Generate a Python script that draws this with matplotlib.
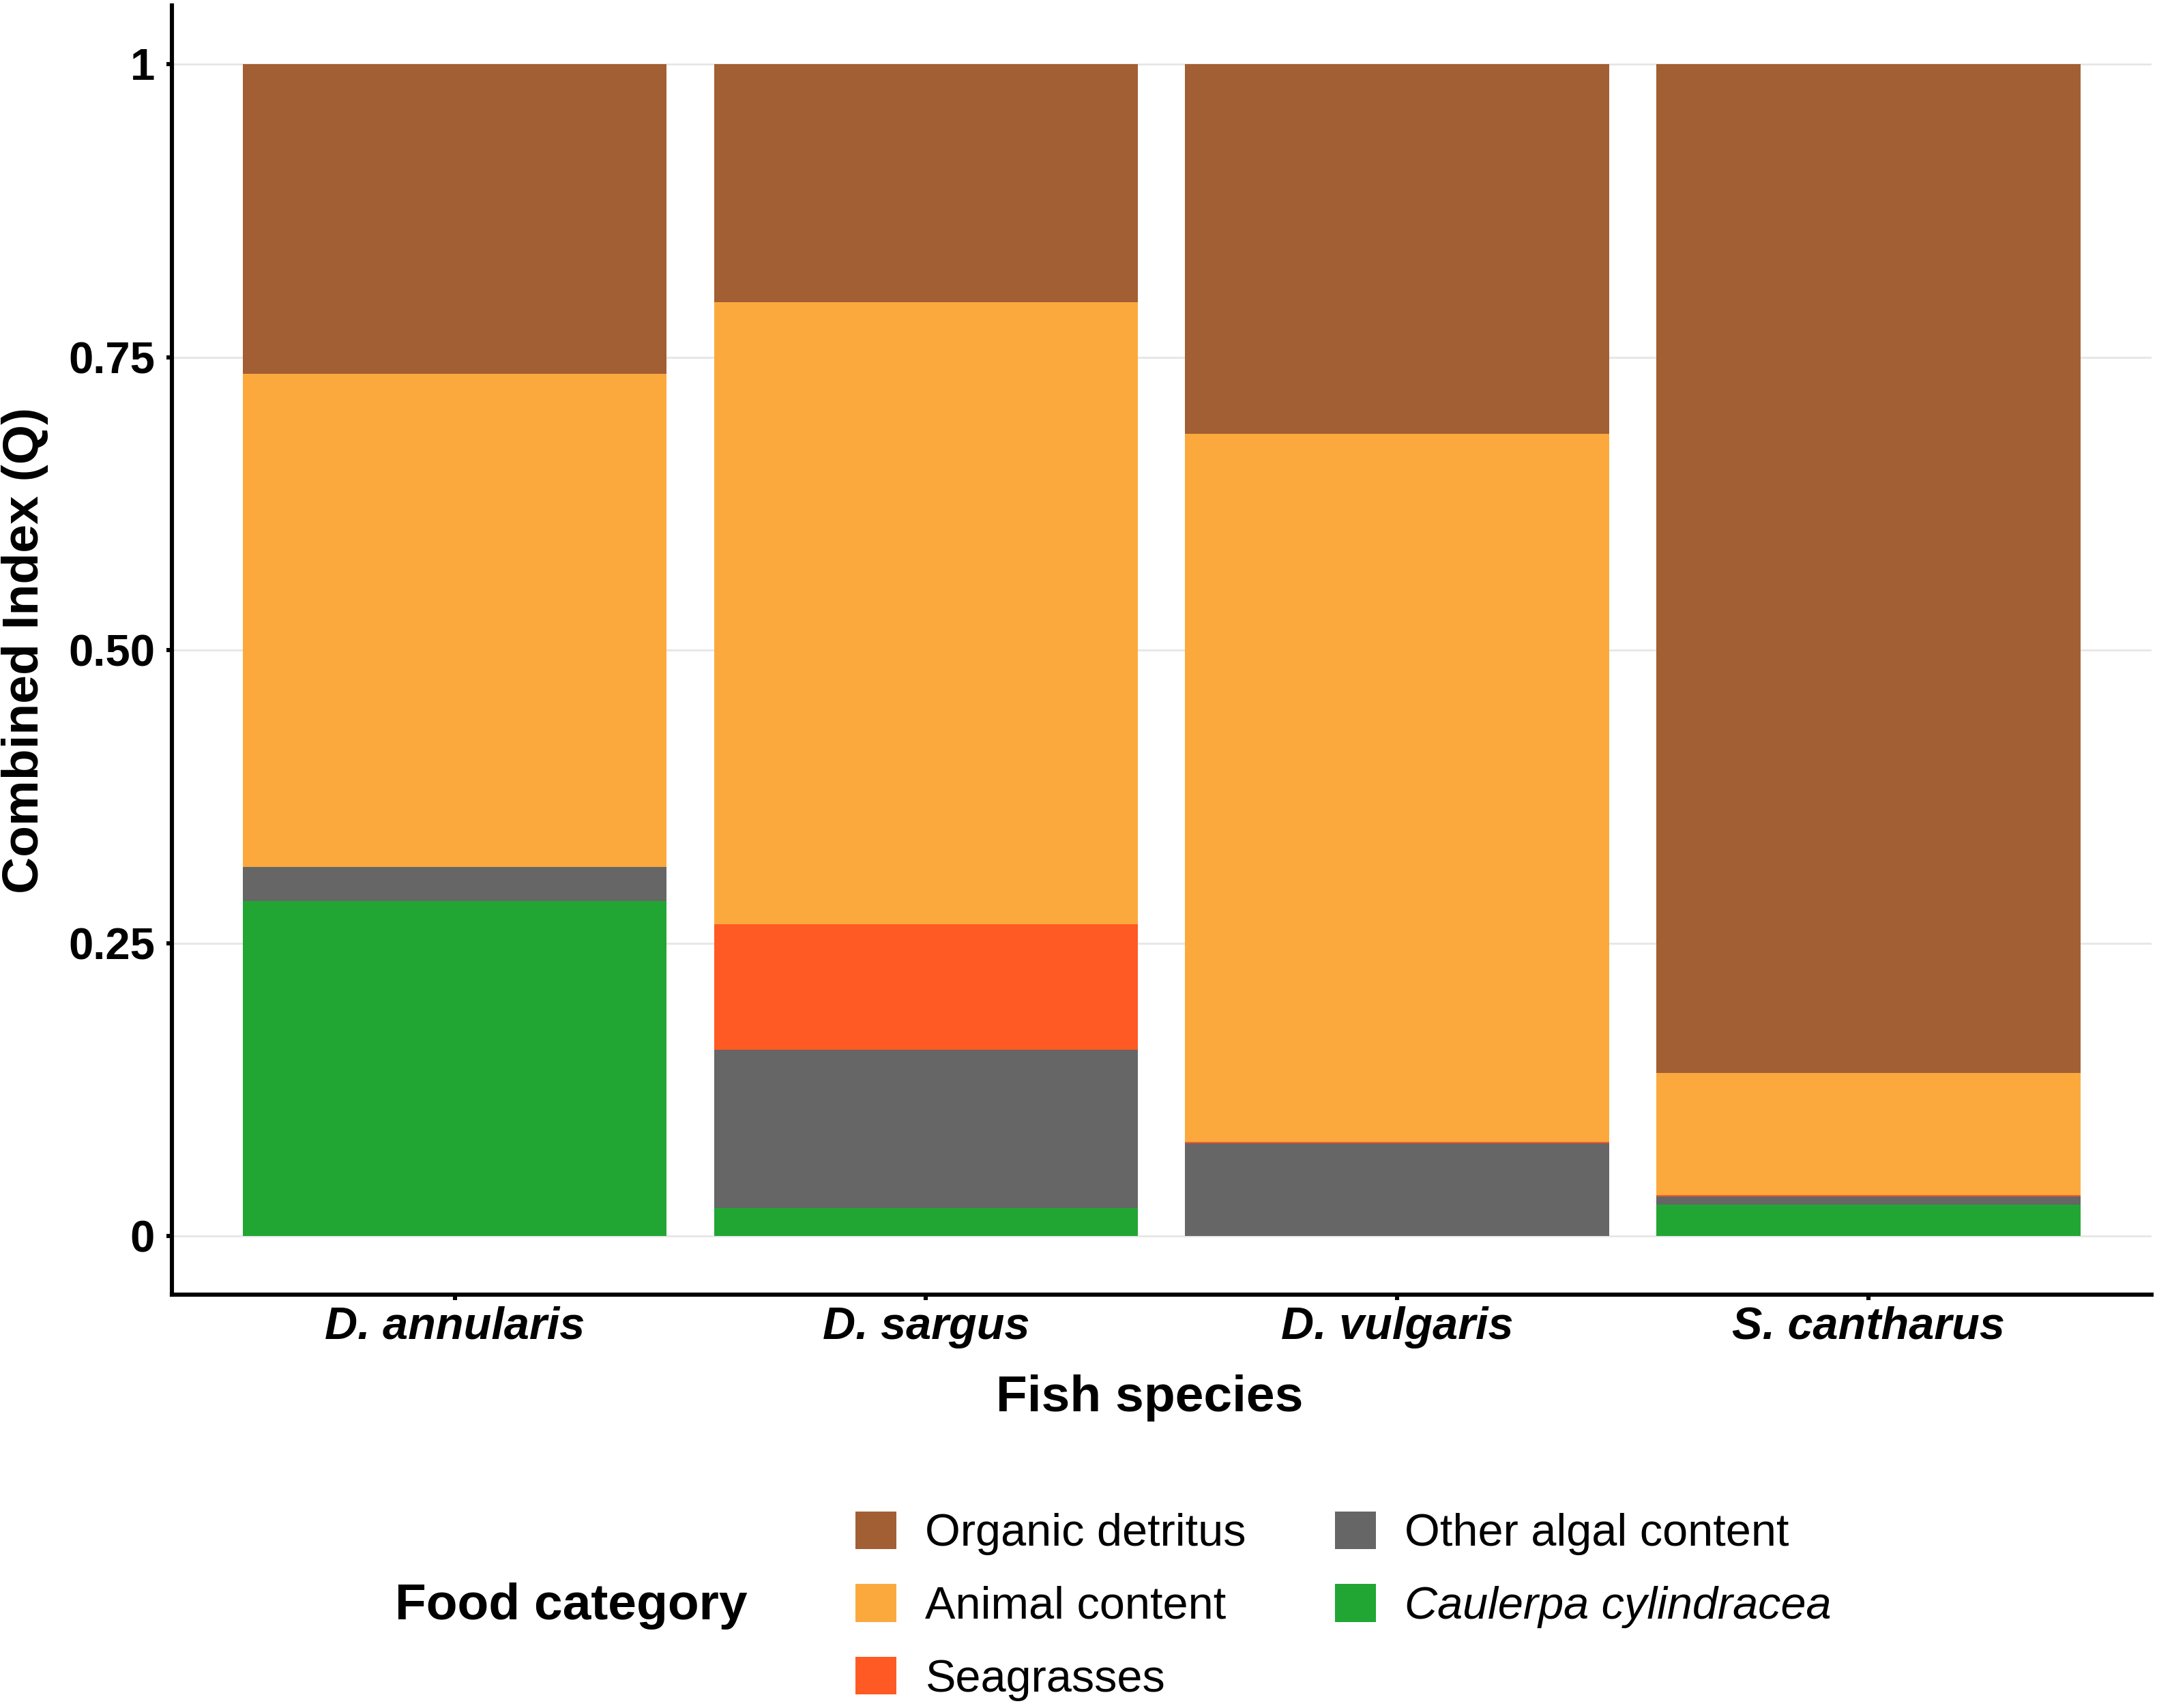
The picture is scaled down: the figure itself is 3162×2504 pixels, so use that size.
import matplotlib
matplotlib.use("Agg")
import numpy as np
import matplotlib.pyplot as plt
from matplotlib.patches import Patch

plt.rcParams['font.family'] = ['Liberation Sans', 'DejaVu Sans']

# Combined index (Q) per fish species, stacked bottom -> top
species = ['D. annularis', 'D. sargus', 'D. vulgaris', 'S. cantharus']
caulerpa = [0.286, 0.024, 0.0, 0.027]
other_algal = [0.029, 0.135, 0.0793, 0.0068]
seagrasses = [0.0, 0.107, 0.0015, 0.0014]
animal = [0.421, 0.531, 0.604, 0.1042]
detritus = [0.264, 0.203, 0.315, 0.8606]

categories = ['Organic detritus', 'Animal content', 'Seagrasses',
              'Other algal content', 'Caulerpa cylindracea']
colors = {
    'Organic detritus': '#A25F33',
    'Animal content': '#FBA93D',
    'Seagrasses': '#FF5A24',
    'Other algal content': '#666666',
    'Caulerpa cylindracea': '#21A634',
}

stack = [('Caulerpa cylindracea', caulerpa),
         ('Other algal content', other_algal),
         ('Seagrasses', seagrasses),
         ('Animal content', animal),
         ('Organic detritus', detritus)]

fig = plt.figure(figsize=(15.81, 12.52), dpi=200)
ax = fig.add_axes([0.0797, 0.2419, 0.9177, 0.7549])

x = np.arange(1, len(species) + 1)
bottom = np.zeros(len(species))
for name, vals in stack:
    vals = np.array(vals)
    ax.bar(x, vals, width=0.9, bottom=bottom, color=colors[name],
           linewidth=0, zorder=2)
    bottom += vals

ax.set_xlim(0.4, 4.6)
ax.set_ylim(-0.05, 1.05)
ax.set_yticks([0, 0.25, 0.5, 0.75, 1])
ax.set_yticklabels(['0', '0.25', '0.50', '0.75', '1'])
ax.set_xticks(x)
ax.set_xticklabels(species, fontstyle='italic')

ax.yaxis.grid(True, color='#E6E6E6', linewidth=1.0, zorder=0)
ax.set_axisbelow(True)

for s in ['top', 'right']:
    ax.spines[s].set_visible(False)
for s in ['left', 'bottom']:
    ax.spines[s].set_linewidth(2.2)
    ax.spines[s].set_color('black')

ax.tick_params(axis='y', length=3, width=2.2, pad=6, labelsize=23.5)
ax.tick_params(axis='x', length=3, width=2.2, pad=3, labelsize=24)
for lab in ax.get_xticklabels() + ax.get_yticklabels():
    lab.set_fontweight('bold')

ax.set_ylabel('Combined Index (Q)', fontsize=27, fontweight='bold')
ax.yaxis.set_label_coords(-0.0744, 0.5)
ax.yaxis.label.set_va('center')
ax.set_xlabel('Fish species', fontsize=27, fontweight='bold')
ax.xaxis.set_label_coords(0.494, -0.080)
ax.xaxis.label.set_va('center')

handles = [Patch(facecolor=colors[c], edgecolor='none') for c in categories]
leg = fig.legend(handles, categories, ncol=2, loc='center left',
                 bbox_to_anchor=(0.3967, 0.0597), frameon=False,
                 fontsize=24, handlelength=0.9, handleheight=0.9,
                 handletextpad=0.63, columnspacing=1.95, labelspacing=0.63,
                 borderpad=0, borderaxespad=0)
leg.get_texts()[4].set_fontstyle('italic')

fig.text(0.183, 0.0597, 'Food category', fontsize=27, fontweight='bold',
         ha='left', va='center')

fig.savefig('out.png', dpi=200)
